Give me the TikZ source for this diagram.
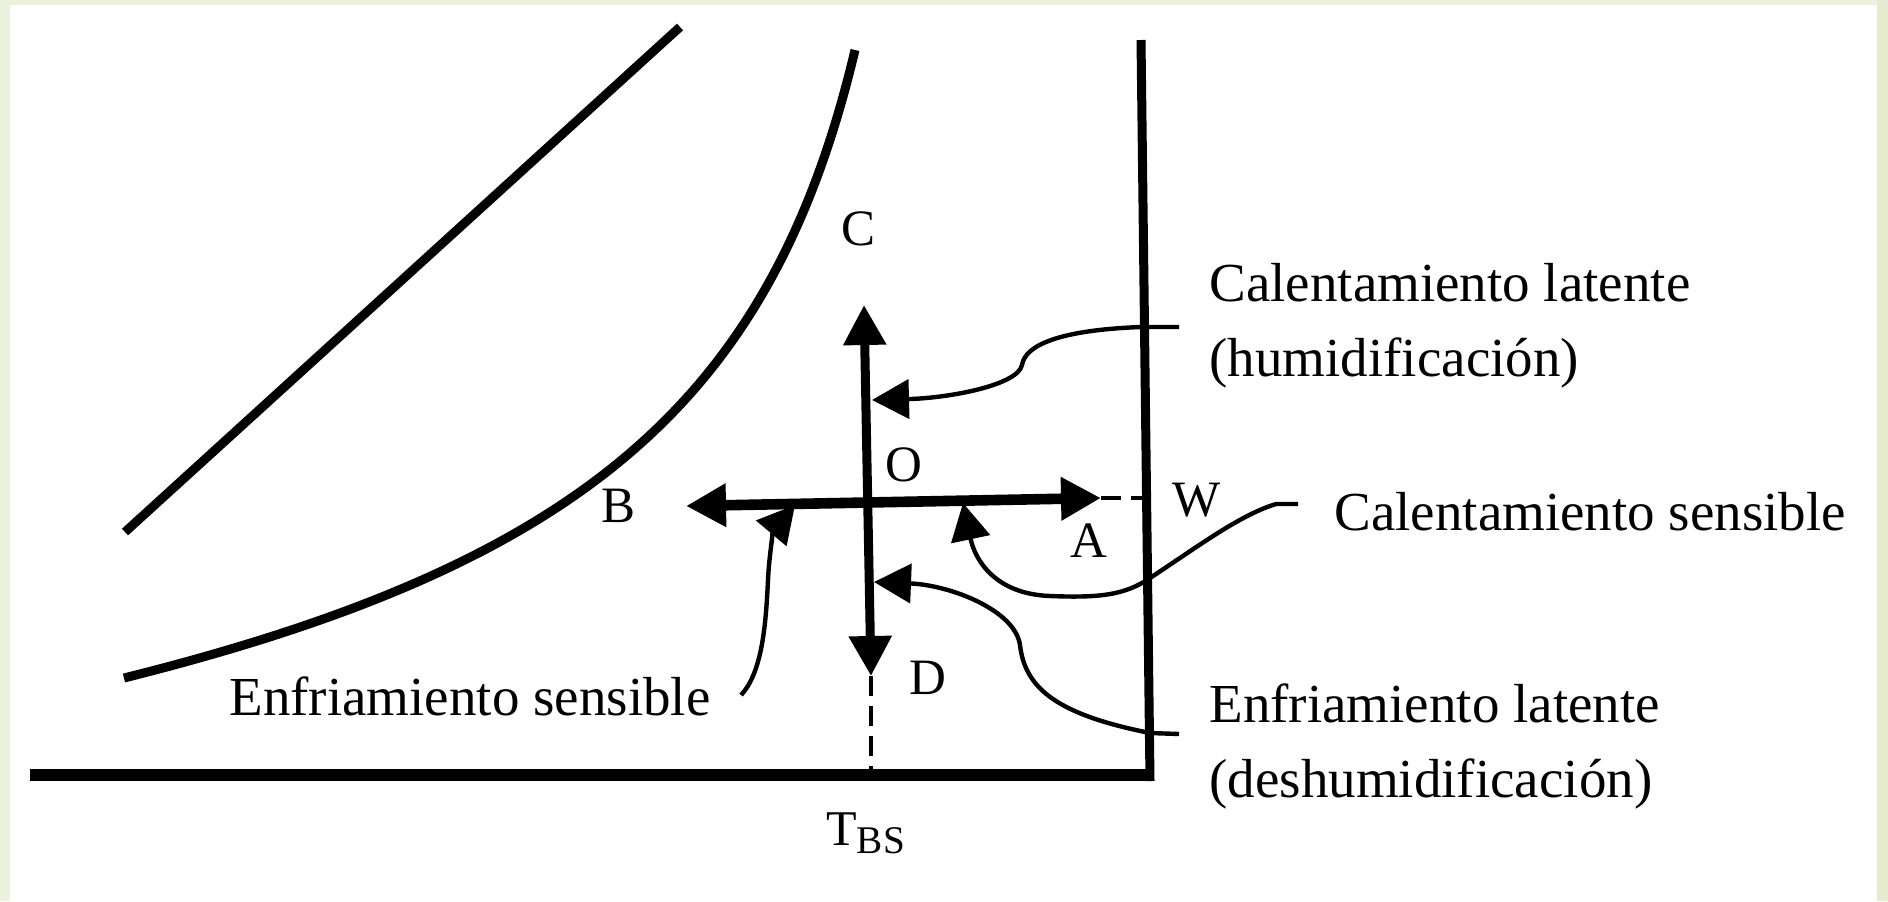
\documentclass[tikz,border=0pt]{standalone}
\usepackage{fontspec}
\setmainfont{Liberation Serif}
\usetikzlibrary{arrows.meta}
\definecolor{bgleft}{RGB}{236,241,222}
\definecolor{bgright}{RGB}{228,235,206}
\begin{document}
\begin{tikzpicture}[x=0.5pt,y=-0.5pt,
  lbl/.style={font=\fontsize{25.5}{30}\selectfont, inner sep=0pt},
  txt/.style={font=\fontsize{27.5}{33}\selectfont, inner sep=0pt, anchor=base west},
  heavy/.style={line width=4.5pt},
  axisline/.style={line width=6pt},
  mainarrow/.style={line width=4.5pt, {Triangle[length=20pt,width=20.5pt]}-{Triangle[length=20pt,width=20.5pt]}},
  leader/.style={line width=2.2pt, -{Triangle[length=18.5pt,width=19.5pt]}},
  guide/.style={line width=2pt, dash pattern=on 10pt off 5pt},
]
\useasboundingbox (0,0) rectangle (1888,901);
\fill[white] (0,0) rectangle (1888,901);
\fill[bgleft] (0,0) rectangle (10,901);
\fill[bgleft] (0,0) rectangle (1888,5);
\fill[bgright] (1877,0) rectangle (1888,901);

% chart lines
\draw[heavy] (125,532) -- (680,27);
\draw[heavy] (124,678) .. controls (584,563) and (772,400) .. (855,50);
\draw[heavy] (1141,40) -- (1150,781);
\draw[axisline] (30,775) -- (1153,775);

% process arrows
\coordinate (Ctip) at (864,305);
\coordinate (Dtip) at (871,676);
\coordinate (Btip) at (686,506);
\coordinate (Atip) at (1101,498);
\coordinate (Wpt) at (1143,498);
\coordinate (Tpt) at (871,772);
\draw[mainarrow] (Dtip) -- (Ctip);
\draw[mainarrow, line width=5.3pt] (Btip) -- (Atip);
\draw[guide] (Atip) -- (Wpt);
\draw[guide] (Dtip) -- (Tpt);

% point labels
\node[lbl] (C) at (858,229) {C};
\node[lbl] (O) at (904,465) {O};
\node[lbl] (B) at (618,506) {B};
\node[lbl] (A) at (1089,541) {A};
\node[lbl] (W) at (1197,500) {W};
\node[lbl] (D) at (928,678) {D};
\node[txt, font=\fontsize{25}{30}\selectfont] (T) at (826,845) {T\raisebox{-4pt}{\fontsize{19.6}{24}\selectfont BS}};

% descriptive texts
\node[txt] (cl1) at (1209,301) {Calentamiento latente};
\node[txt] (cl2) at (1209,376) {(humidificación)};
\node[txt] (cs) at (1334,530) {Calentamiento sensible};
\node[txt] (el1) at (1209,722) {Enfriamiento latente};
\node[txt] (el2) at (1209,797) {(deshumidificación)};
\node[txt] (es) at (229,715) {Enfriamiento sensible};

% leaders
\coordinate (clS) at (1179,327);
\coordinate (clE) at (872,400);
\draw[leader] (clS) -- (1141,327) .. controls (1060,330) and (1025,345) .. (1022,365) .. controls (1018,385) and (950,398) .. (clE);

\coordinate (csS) at (1298,504);
\coordinate (csE) at (963,503);
\draw[leader] (csS) -- (1276,504) .. controls (1240,515) and (1200,545) .. (1150,578) .. controls (1125,595) and (1100,598) .. (1050,596) .. controls (995,594) and (975,560) .. (csE);

\coordinate (elS) at (1179,734);
\coordinate (elE) at (874,582);
\draw[leader] (elS) -- (1150,733) .. controls (1060,715) and (1025,690) .. (1020,645) .. controls (1015,610) and (950,585) .. (elE);

\coordinate (esS) at (741,695);
\coordinate (esE) at (795,505);
\draw[leader] (esS) .. controls (763,672) and (766,620) .. (768,580) .. controls (769,555) and (774,530) .. (esE);
\end{tikzpicture}
\end{document}
